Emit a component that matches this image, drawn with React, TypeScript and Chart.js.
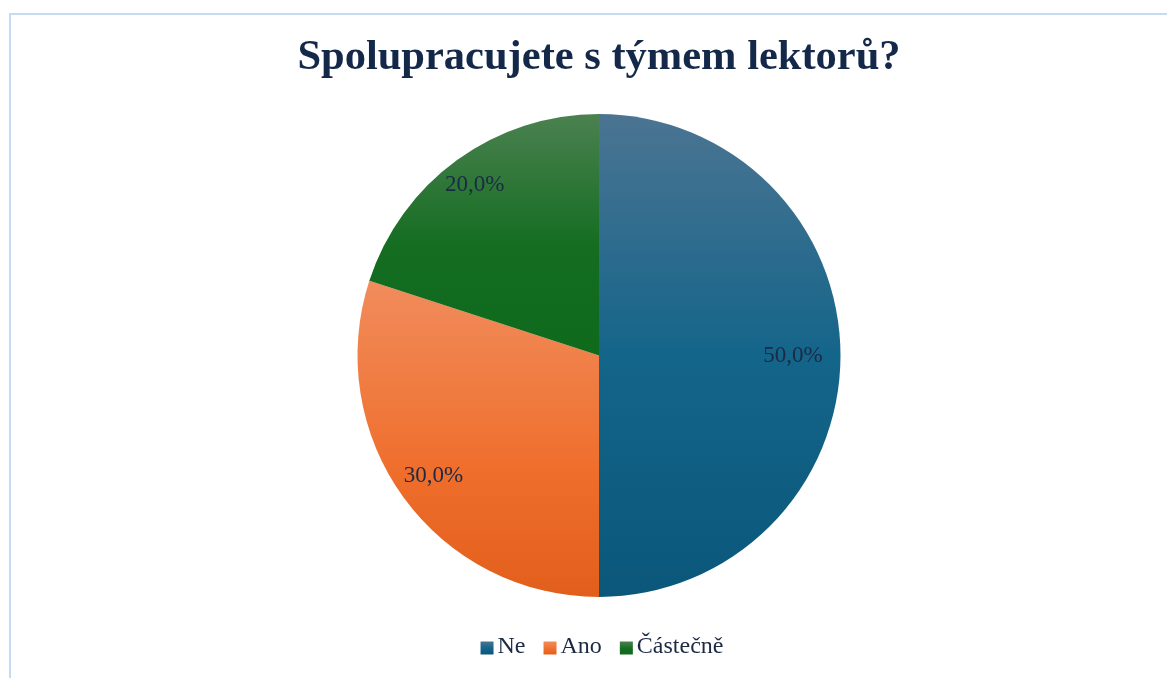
import React, { useEffect, useRef } from "react";
import { Chart, registerables } from "chart.js";

Chart.register(...registerables);

const TITLE = "Spolupracujete s týmem lektorů?";
const categories = ["Ne", "Ano", "Částečně"];
const values = [50, 30, 20];
const valueLabels = ["50,0%", "30,0%", "20,0%"];
// gradient stops (top -> bottom) for each slice
const gradientStops: [number, string][][] = [
  [[0, "#4b7492"], [0.5, "#14658a"], [1, "#0a577a"]],
  [[0, "#f18c5c"], [0.6, "#ef6e2c"], [1, "#e25e1b"]],
  [[0, "#4b8150"], [0.55, "#146d21"], [1, "#0f6a1c"]],
];
const baseColors = ["#14658a", "#ef6e2c", "#146d21"];
const labelRadiusFactor = [0.803, 0.847, 0.875];

const RADIUS = 241.5;
const TEXT_COLOR = "#1b2a45";
const SERIF = "'Liberation Serif', 'Times New Roman', serif";

function sliceBounds(cy: number, r: number, i: number) {
  const total = values.reduce((a, b) => a + b, 0);
  let start = -Math.PI / 2;
  for (let k = 0; k < i; k++) start += (values[k] / total) * Math.PI * 2;
  const end = start + (values[i] / total) * Math.PI * 2;
  const ys = [cy, cy + r * Math.sin(start), cy + r * Math.sin(end)];
  for (let m = -4; m <= 8; m++) {
    const a = (m * Math.PI) / 2;
    if (a > start && a < end) ys.push(cy + r * Math.sin(a));
  }
  return { top: Math.min(...ys), bottom: Math.max(...ys) };
}

function makeGradient(c: CanvasRenderingContext2D, top: number, bottom: number, i: number) {
  const g = c.createLinearGradient(0, top, 0, bottom);
  gradientStops[i].forEach(([o, col]) => g.addColorStop(o, col));
  return g;
}

const labelsPlugin = {
  id: "customLabels",
  afterDatasetsDraw(chart: any) {
    const ctx = chart.ctx as CanvasRenderingContext2D;
    const meta = chart.getDatasetMeta(0);
    ctx.save();
    ctx.font = `23px ${SERIF}`;
    ctx.fillStyle = TEXT_COLOR;
    ctx.textAlign = "center";
    ctx.textBaseline = "middle";
    meta.data.forEach((arc: any, i: number) => {
      const mid = (arc.startAngle + arc.endAngle) / 2;
      const rr = arc.outerRadius * labelRadiusFactor[i];
      ctx.fillText(valueLabels[i], arc.x + Math.cos(mid) * rr, arc.y + Math.sin(mid) * rr);
    });
    ctx.restore();
  },
  afterDraw(chart: any) {
    const ctx = chart.ctx as CanvasRenderingContext2D;
    const area = chart.chartArea;
    const cx = (area.left + area.right) / 2 + 3;
    const baseline = 645;
    ctx.save();
    ctx.font = `24px ${SERIF}`;
    const box = 13;
    const gapBox = 4;
    const gapItem = 18;
    const widths = categories.map((t) => ctx.measureText(t).width);
    const total = widths.reduce((a, w) => a + box + gapBox + w, 0) + gapItem * (categories.length - 1);
    let x = cx - total / 2;
    ctx.textBaseline = "alphabetic";
    ctx.textAlign = "left";
    categories.forEach((t, i) => {
      const top = baseline - 11.5;
      ctx.fillStyle = makeGradient(ctx, top, top + box, i);
      ctx.fillRect(x, top, box, box);
      x += box + gapBox;
      ctx.fillStyle = TEXT_COLOR;
      ctx.fillText(t, x, baseline);
      x += widths[i] + gapItem;
    });
    ctx.restore();
  },
};

export default function App() {
  const ref = useRef<HTMLCanvasElement | null>(null);
  useEffect(() => {
    if (!ref.current) return;
    const chart = new Chart(ref.current, {
      type: "pie",
      data: {
        labels: categories,
        datasets: [
          {
            data: values,
            radius: RADIUS,
            borderWidth: 0,
            backgroundColor: (ctx: any) => {
              const chart = ctx.chart;
              const area = chart.chartArea;
              const i = ctx.dataIndex;
              if (!area || i === undefined) return baseColors[i ?? 0];
              const cy = (area.top + area.bottom) / 2;
              const b = sliceBounds(cy, RADIUS, i);
              return makeGradient(chart.ctx, b.top, b.bottom, i);
            },
          } as any,
        ],
      },
      options: {
        animation: false,
        responsive: true,
        maintainAspectRatio: false,
        layout: { padding: { top: 0, bottom: 51, left: 0, right: 0 } },
        plugins: {
          legend: { display: false },
          tooltip: { enabled: false },
          title: {
            display: true,
            text: TITLE,
            color: "#14294a",
            font: { family: SERIF, size: 42.5, weight: "bold" },
            padding: { top: 25, bottom: 0 },
          },
        },
      },
      plugins: [labelsPlugin],
    });
    return () => chart.destroy();
  }, []);

  return (
    <div style={{ position: "relative", width: 1167, height: 670, overflow: "hidden" }}>
      <div
        style={{
          position: "absolute",
          left: 1,
          top: 5,
          width: 1400,
          height: 900,
          border: "2px solid #c6dbf2",
          boxSizing: "border-box",
        }}
      />
      <div style={{ position: "absolute", left: 0, top: 0, width: 1182, height: 670 }}>
        <canvas ref={ref} />
      </div>
    </div>
  );
}
